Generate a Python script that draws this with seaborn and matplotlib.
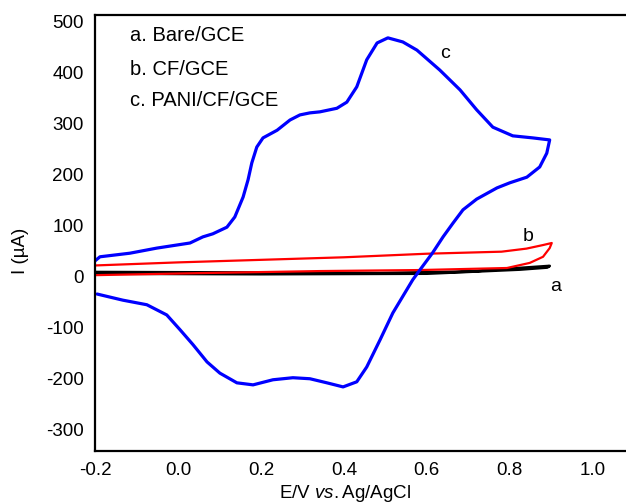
import pandas as pd
import numpy as np
import seaborn as sns
import matplotlib.pyplot as plt

# CV of PANI/CF/GCE (c), forward scan then reverse
pani_e = [-0.200, -0.188, -0.116, -0.051, 0.029, 0.060, 0.084, 0.118, 0.137, 0.157,
          0.169, 0.178, 0.190, 0.205, 0.239, 0.270, 0.294, 0.318, 0.342, 0.383,
          0.407, 0.431, 0.455, 0.480, 0.506, 0.542, 0.576, 0.631, 0.680, 0.720,
          0.759, 0.807, 0.855, 0.896,
          0.889, 0.872, 0.841, 0.800, 0.769, 0.720, 0.687, 0.663, 0.639, 0.614,
          0.583, 0.566, 0.518, 0.487, 0.455, 0.431, 0.398, 0.359, 0.318, 0.277,
          0.229, 0.181, 0.142, 0.101, 0.070, 0.036, 0.005, -0.027, -0.075, -0.133,
          -0.195]
pani_i = [31, 39, 46, 56, 66, 78, 84, 97, 117, 156,
          190, 223, 254, 272, 287, 307, 317, 321, 323, 330,
          342, 372, 425, 458, 468, 460, 444, 405, 366, 327,
          293, 276, 272, 268,
          242, 215, 195, 184, 174, 152, 131, 105, 78, 47,
          13, -6, -71, -124, -177, -206, -216, -208, -200, -198,
          -202, -212, -208, -189, -167, -133, -104, -75, -55, -46,
          -34]

# CF/GCE (b)
cf_e = [-0.200, 0.000, 0.200, 0.400, 0.600, 0.780, 0.840, 0.880, 0.901,
        0.896, 0.880, 0.848, 0.793, 0.583, 0.342, 0.053, -0.200]
cf_i = [22, 28, 33, 38, 45, 49, 55, 62, 66,
        56, 39, 27, 17, 13, 11, 7, 3]

# Bare/GCE (a)
bare_e = [-0.200, 0.200, 0.487, 0.700, 0.824, 0.896,
          0.890, 0.824, 0.600, 0.200, -0.200]
bare_i = [9, 8, 7, 10, 17, 21,
          18, 14, 6, 5, 6]

x_ticks = [-0.2, 0.0, 0.2, 0.4, 0.6, 0.8, 1.0]
y_ticks = [-300, -200, -100, 0, 100, 200, 300, 400, 500]
legend_lines = ["a. Bare/GCE", "b. CF/GCE", "c. PANI/CF/GCE"]

sns.set_style("white")
plt.rcParams['font.family'] = ['Liberation Sans', 'DejaVu Sans']
plt.rcParams['axes.unicode_minus'] = False
plt.rcParams['mathtext.fontset'] = 'custom'
plt.rcParams['mathtext.it'] = 'Liberation Sans:italic'
plt.rcParams['mathtext.rm'] = 'Liberation Sans'
plt.rcParams['text.color'] = 'black'
plt.rcParams['axes.labelcolor'] = 'black'
plt.rcParams['xtick.color'] = 'black'
plt.rcParams['ytick.color'] = 'black'

fig = plt.figure(figsize=(6.26, 5.04), dpi=100)
ax = fig.add_axes([95 / 626, 53 / 504, 531 / 626, 436 / 504])

df_a = pd.DataFrame({"E": bare_e, "I": bare_i})
df_b = pd.DataFrame({"E": cf_e, "I": cf_i})
df_c = pd.DataFrame({"E": pani_e, "I": pani_i})

sns.lineplot(data=df_a, x="E", y="I", sort=False, estimator=None, color="black", linewidth=2.0, ax=ax)
sns.lineplot(data=df_b, x="E", y="I", sort=False, estimator=None, color="#ff0000", linewidth=1.6, ax=ax)
sns.lineplot(data=df_c, x="E", y="I", sort=False, estimator=None, color="#0000ff", linewidth=2.3, ax=ax)

ax.set_xlim(-0.2, 1.08)
ax.set_ylim(-341.6, 512.8)
ax.set_xticks(x_ticks)
ax.set_xticklabels([f"{t:.1f}" for t in x_ticks])
ax.set_yticks(y_ticks)
ax.tick_params(length=0, labelsize=13.5, pad=8)

for side in ["left", "bottom", "top"]:
    ax.spines[side].set_visible(True)
    ax.spines[side].set_color("black")
    ax.spines[side].set_linewidth(1.6)
ax.spines["right"].set_visible(False)

ax.set_xlabel(r"E/V $\it{vs.}$Ag/AgCl", fontsize=13.5)
ax.set_ylabel("I (µA)", fontsize=13.5)
ax.xaxis.set_label_coords(0.471, -0.074)
ax.yaxis.set_label_coords(-0.124, 0.46)

for k, txt in enumerate(legend_lines):
    ax.text(0.066, [0.952, 0.876, 0.805][k], txt, transform=ax.transAxes,
            fontsize=14.5, va="center", ha="left")

ax.text(0.896, -20, "a", fontsize=14, va="center", ha="left")
ax.text(0.831, 78, "b", fontsize=14, va="center", ha="left")
ax.text(0.631, 438, "c", fontsize=14, va="center", ha="left")

fig.savefig("out.png", dpi=100)
